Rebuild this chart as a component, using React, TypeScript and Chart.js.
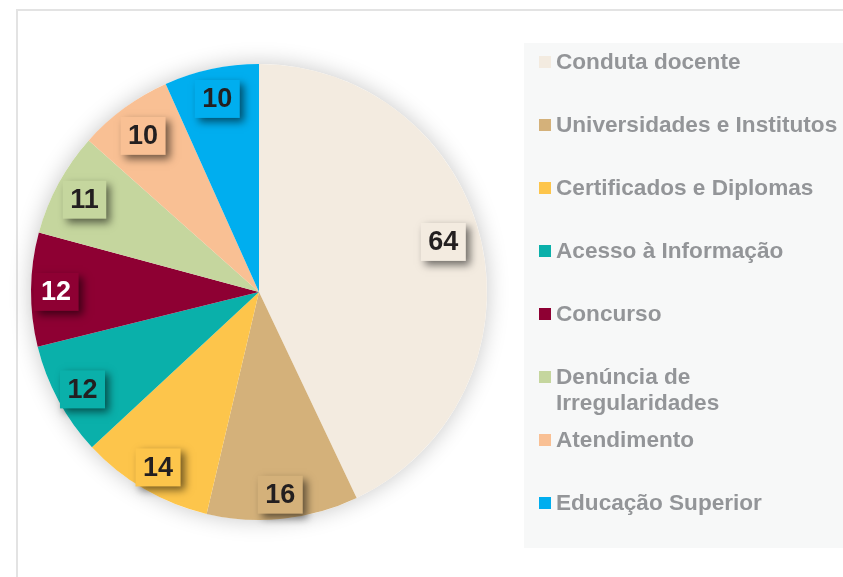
import React, { useEffect, useRef } from "react";
import { Chart, registerables } from "chart.js";

Chart.register(...registerables);

const categories = [
  "Conduta docente",
  "Universidades e Institutos",
  "Certificados e Diplomas",
  "Acesso à Informação",
  "Concurso",
  "Denúncia de Irregularidades",
  "Atendimento",
  "Educação Superior",
];
const legendLines = [
  ["Conduta docente"],
  ["Universidades e Institutos"],
  ["Certificados e Diplomas"],
  ["Acesso à Informação"],
  ["Concurso"],
  ["Denúncia de", "Irregularidades"],
  ["Atendimento"],
  ["Educação Superior"],
];
const values = [64, 16, 14, 12, 12, 11, 10, 10];
const colors = ["#F3EBE0", "#D4B17A", "#FDC54B", "#0AB0AA", "#8E0033", "#C5D69E", "#F9C094", "#00AEEF"];
const labelTextColors = ["#231F20", "#231F20", "#231F20", "#231F20", "#FFFFFF", "#231F20", "#231F20", "#231F20"];
const labelRadius = [0.84, 0.885, 0.88, 0.88, 0.89, 0.87, 0.86, 0.875];
const labelAngleFrac = [0.48, 0.5, 0.5, 0.5, 0.5, 0.5, 0.5, 0.5];

const W = 843;
const H = 577;

const framePlugin = {
  id: "frame",
  beforeDraw(chart: any) {
    const ctx = chart.ctx;
    ctx.save();
    ctx.fillStyle = "#FFFFFF";
    ctx.fillRect(0, 0, W, H);
    ctx.fillStyle = "#E3E3E3";
    ctx.fillRect(16, 9, W - 16, 2);
    ctx.fillRect(16, 9, 2, H - 9);
    ctx.fillStyle = "#F7F8F8";
    ctx.fillRect(524, 43, W - 524, 505);
    ctx.restore();
  },
  beforeDatasetsDraw(chart: any) {
    const meta = chart.getDatasetMeta(0);
    const arc = meta.data[0];
    if (!arc) return;
    const ctx = chart.ctx;
    ctx.save();
    ctx.shadowColor = "rgba(0,0,0,0.22)";
    ctx.shadowBlur = 22;
    ctx.fillStyle = "#FFFFFF";
    ctx.beginPath();
    ctx.arc(arc.x, arc.y, arc.outerRadius, 0, Math.PI * 2);
    ctx.fill();
    ctx.restore();
  },
  afterDatasetsDraw(chart: any) {
    const ctx = chart.ctx;
    const meta = chart.getDatasetMeta(0);
    ctx.save();
    ctx.font = "bold 27px 'Liberation Sans', Arial, sans-serif";
    ctx.textAlign = "center";
    ctx.textBaseline = "middle";
    meta.data.forEach((el: any, i: number) => {
      const ang = el.startAngle + (el.endAngle - el.startAngle) * labelAngleFrac[i];
      const r = el.outerRadius * labelRadius[i];
      const x = el.x + Math.cos(ang) * r;
      const y = el.y + Math.sin(ang) * r + 2;
      const text = String(values[i]);
      const tw = ctx.measureText(text).width;
      const bw = tw + 15;
      const bh = 38;
      ctx.save();
      ctx.shadowColor = "rgba(0,0,0,0.55)";
      ctx.shadowBlur = 8;
      ctx.shadowOffsetX = 4;
      ctx.shadowOffsetY = 4;
      ctx.fillStyle = colors[i];
      ctx.fillRect(x - bw / 2, y - bh / 2, bw, bh);
      ctx.restore();
      ctx.fillStyle = labelTextColors[i];
      ctx.fillText(text, x, y + 1);
    });
    ctx.restore();

    ctx.save();
    ctx.font = "bold 22.6px 'Liberation Sans', Arial, sans-serif";
    ctx.textAlign = "left";
    ctx.textBaseline = "middle";
    legendLines.forEach((lines, i) => {
      const y0 = 62 + i * 63;
      ctx.fillStyle = colors[i];
      ctx.fillRect(539, y0 - 6, 12, 12);
      ctx.fillStyle = "#939598";
      lines.forEach((ln, j) => {
        ctx.fillText(ln, 556, y0 + 1 + j * 26);
      });
    });
    ctx.restore();
  },
};

export default function App() {
  const ref = useRef<HTMLCanvasElement>(null);
  useEffect(() => {
    if (!ref.current) return;
    const chart = new Chart(ref.current, {
      type: "pie",
      data: {
        labels: categories,
        datasets: [
          {
            data: values,
            backgroundColor: colors,
            borderWidth: 0,
          },
        ],
      },
      options: {
        animation: false,
        responsive: false,
        maintainAspectRatio: false,
        layout: { padding: { left: 31, top: 64, right: 356, bottom: 57 } },
        plugins: {
          legend: { display: false },
          tooltip: { enabled: false },
        },
      },
      plugins: [framePlugin],
    });
    return () => chart.destroy();
  }, []);
  return (
    <div style={{ position: "fixed", left: 0, top: 0, width: W, height: H, background: "#fff" }}>
      <canvas ref={ref} width={W} height={H} style={{ width: W, height: H, display: "block" }} />
    </div>
  );
}
